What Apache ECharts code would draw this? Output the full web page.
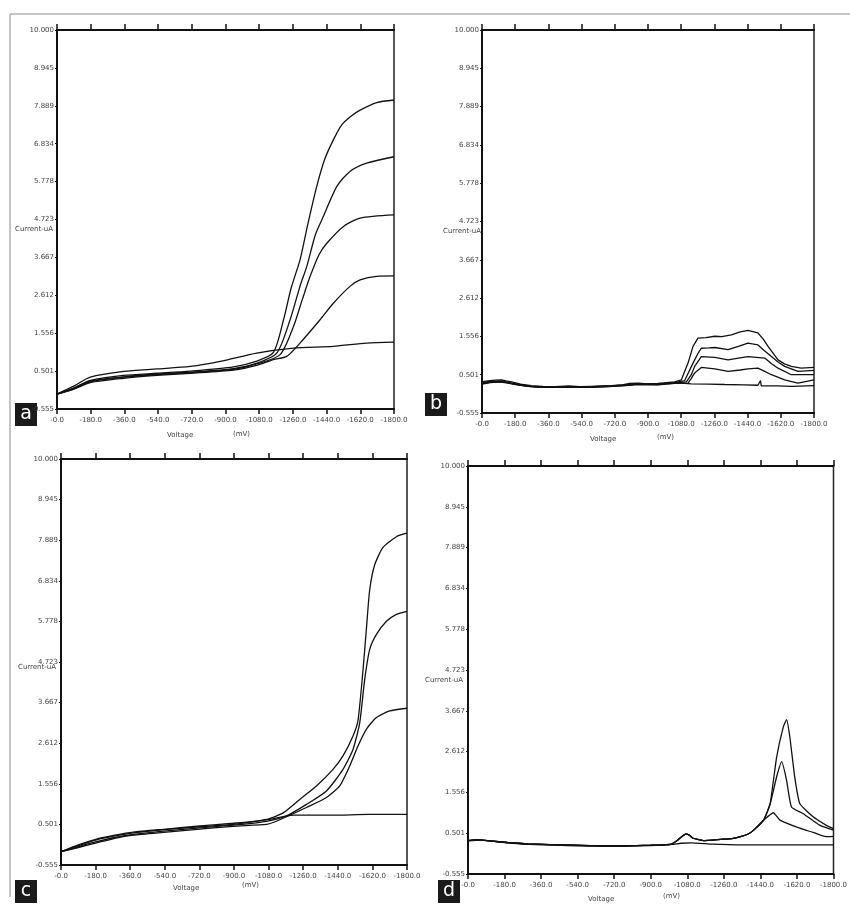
<!DOCTYPE html>
<html>
<head>
<meta charset="utf-8">
<script src="https://cdn.jsdelivr.net/npm/echarts@6/dist/echarts.min.js"></script>
<style>html,body{margin:0;padding:0;background:#fff}#c{width:850px;height:909px}</style>
</head>
<body>
<div id="c"></div>
<script>
// ---- tick labels ----
const xTickLabels = ["-0.0","-180.0","-360.0","-540.0","-720.0","-900.0","-1080.0","-1260.0","-1440.0","-1620.0","-1800.0"];
const yTickLabels = ["-0.555","0.501","1.556","2.612","3.667","4.723","5.778","6.834","7.889","8.945","10.000"];
const panelLetters = ["a","b","c","d"];
const xName = "Voltage", xUnit = "(mV)", yName = "Current-uA";

// ---- panel a : [mV, uA] ----
const a1 = [[0,-0.14],[-89,0.03],[-178,0.24],[-356,0.38],[-534,0.44],[-711,0.50],[-943,0.62],[-1067,0.78],[-1156,1.02],[-1210,1.93],[-1250,2.8],[-1298,3.6],[-1340,4.6],[-1387,5.64],[-1430,6.4],[-1476,6.94],[-1521,7.36],[-1570,7.6],[-1619,7.77],[-1708,7.98],[-1800,8.05]];
const a2 = [[0,-0.14],[-89,0.02],[-178,0.22],[-356,0.34],[-534,0.42],[-711,0.47],[-943,0.57],[-1067,0.72],[-1174,1.0],[-1245,1.93],[-1300,2.9],[-1334,3.41],[-1380,4.3],[-1423,4.81],[-1494,5.64],[-1565,6.06],[-1654,6.29],[-1800,6.47]];
const a3 = [[0,-0.14],[-89,0.0],[-178,0.2],[-356,0.33],[-534,0.40],[-711,0.46],[-943,0.55],[-1067,0.70],[-1192,0.96],[-1263,1.74],[-1310,2.49],[-1352,3.14],[-1400,3.75],[-1441,4.06],[-1530,4.53],[-1619,4.76],[-1800,4.85]];
const a4 = [[0,-0.14],[-89,0.0],[-178,0.18],[-356,0.3],[-534,0.38],[-711,0.44],[-943,0.53],[-1067,0.66],[-1156,0.82],[-1227,0.91],[-1298,1.28],[-1405,1.93],[-1476,2.39],[-1565,2.86],[-1619,3.04],[-1708,3.14],[-1800,3.15]];
const a5 = [[0,-0.14],[-89,0.08],[-178,0.33],[-356,0.49],[-534,0.56],[-711,0.63],[-872,0.77],[-1067,1.0],[-1263,1.14],[-1476,1.19],[-1654,1.28],[-1800,1.31]];

// ---- panel b ----
const b1 = [[0,0.30],[-30,0.33],[-70,0.35],[-105,0.36],[-130,0.33],[-160,0.30],[-210,0.24],[-267,0.20],[-330,0.18],[-400,0.17],[-470,0.19],[-530,0.17],[-593,0.18],[-650,0.19],[-700,0.20],[-760,0.22],[-800,0.26],[-846,0.27],[-900,0.25],[-954,0.26],[-1000,0.28],[-1045,0.30],[-1081,0.36],[-1117,0.82],[-1144,1.28],[-1171,1.51],[-1215,1.52],[-1262,1.56],[-1300,1.55],[-1352,1.60],[-1400,1.68],[-1442,1.72],[-1496,1.65],[-1525,1.48],[-1551,1.28],[-1580,1.08],[-1605,0.91],[-1640,0.80],[-1677,0.73],[-1731,0.68],[-1800,0.70]];
const b2 = [[0,0.27],[-35,0.31],[-80,0.32],[-105,0.33],[-160,0.27],[-220,0.21],[-267,0.18],[-350,0.16],[-400,0.16],[-480,0.17],[-593,0.17],[-660,0.18],[-700,0.19],[-770,0.21],[-846,0.25],[-900,0.24],[-954,0.24],[-1045,0.28],[-1099,0.34],[-1144,0.82],[-1170,1.08],[-1189,1.23],[-1230,1.24],[-1262,1.25],[-1334,1.19],[-1390,1.28],[-1442,1.37],[-1496,1.32],[-1530,1.17],[-1569,1.0],[-1605,0.85],[-1641,0.73],[-1713,0.59],[-1800,0.62]];
const b3 = [[0,0.25],[-40,0.29],[-90,0.31],[-120,0.30],[-170,0.25],[-230,0.19],[-300,0.16],[-400,0.15],[-500,0.16],[-593,0.16],[-700,0.18],[-780,0.20],[-846,0.24],[-954,0.23],[-1045,0.27],[-1108,0.30],[-1135,0.50],[-1153,0.73],[-1189,1.0],[-1262,0.98],[-1334,0.91],[-1390,0.96],[-1442,1.0],[-1533,0.96],[-1570,0.80],[-1605,0.68],[-1677,0.50],[-1800,0.50]];
const b4 = [[0,0.24],[-45,0.28],[-95,0.30],[-140,0.27],[-190,0.22],[-260,0.17],[-350,0.15],[-450,0.15],[-593,0.15],[-690,0.17],[-760,0.20],[-846,0.23],[-954,0.22],[-1045,0.26],[-1117,0.27],[-1135,0.40],[-1153,0.55],[-1189,0.70],[-1262,0.66],[-1334,0.59],[-1400,0.63],[-1442,0.66],[-1496,0.68],[-1530,0.60],[-1569,0.50],[-1641,0.36],[-1713,0.27],[-1800,0.36]];
const b5 = [[0,0.26],[-50,0.30],[-105,0.31],[-160,0.26],[-267,0.18],[-400,0.16],[-593,0.17],[-700,0.19],[-846,0.25],[-954,0.24],[-1045,0.28],[-1135,0.25],[-1230,0.24],[-1316,0.23],[-1420,0.22],[-1496,0.21],[-1505,0.21],[-1510,0.34],[-1514,0.19],[-1600,0.19],[-1677,0.18],[-1800,0.20]];

// ---- panel c ----
const c1 = [[0,-0.21],[-90,-0.05],[-185,0.10],[-280,0.20],[-376,0.28],[-549,0.37],[-722,0.44],[-896,0.50],[-1069,0.63],[-1156,0.80],[-1242,1.15],[-1329,1.50],[-1415,1.93],[-1467,2.28],[-1519,2.80],[-1545,3.20],[-1571,4.50],[-1589,5.60],[-1606,6.60],[-1632,7.25],[-1675,7.70],[-1745,7.98],[-1800,8.07]];
const c2 = [[0,-0.21],[-90,-0.08],[-185,0.05],[-280,0.16],[-376,0.24],[-549,0.33],[-722,0.41],[-896,0.48],[-1069,0.58],[-1173,0.72],[-1277,1.02],[-1381,1.37],[-1467,1.93],[-1519,2.45],[-1554,3.14],[-1580,4.27],[-1606,5.05],[-1641,5.44],[-1693,5.78],[-1745,5.96],[-1800,6.04]];
const c3 = [[0,-0.21],[-90,-0.10],[-185,0.02],[-280,0.14],[-376,0.22],[-549,0.30],[-722,0.38],[-896,0.45],[-1069,0.50],[-1104,0.55],[-1173,0.70],[-1277,0.94],[-1381,1.20],[-1450,1.50],[-1502,2.02],[-1545,2.54],[-1589,2.98],[-1641,3.28],[-1710,3.45],[-1800,3.52]];
const c4 = [[0,-0.21],[-90,-0.03],[-185,0.12],[-280,0.22],[-376,0.30],[-549,0.38],[-722,0.46],[-896,0.53],[-1069,0.62],[-1208,0.74],[-1415,0.74],[-1600,0.76],[-1800,0.76]];

// ---- panel d ----
const dBase = [[0,0.31],[-30,0.33],[-60,0.33],[-110,0.30],[-194,0.26],[-250,0.24],[-300,0.22],[-370,0.21],[-437,0.20],[-520,0.19],[-600,0.18],[-680,0.17],[-760,0.17],[-830,0.18],[-900,0.19],[-960,0.20],[-1003,0.22],[-1035,0.33],[-1060,0.44],[-1076,0.48],[-1092,0.44],[-1108,0.37],[-1164,0.31],[-1245,0.34],[-1300,0.36],[-1342,0.41],[-1380,0.48],[-1407,0.58],[-1456,0.84]];
const d1 = dBase.concat([[-1488,1.27],[-1520,2.47],[-1553,3.25],[-1569,3.44],[-1585,2.99],[-1609,1.96],[-1634,1.27],[-1698,0.93],[-1763,0.71],[-1800,0.62]]);
const d2 = dBase.concat([[-1488,1.25],[-1520,1.96],[-1545,2.35],[-1569,1.87],[-1593,1.18],[-1650,1.01],[-1731,0.71],[-1800,0.58]]);
const d3 = dBase.concat([[-1504,1.03],[-1536,0.84],[-1634,0.63],[-1700,0.52],[-1763,0.41],[-1800,0.42]]);
const d4 = [[0,0.30],[-60,0.32],[-194,0.25],[-300,0.21],[-437,0.19],[-600,0.17],[-760,0.17],[-900,0.18],[-1003,0.21],[-1050,0.24],[-1100,0.25],[-1200,0.22],[-1342,0.20],[-1450,0.20],[-1569,0.20],[-1700,0.20],[-1800,0.20]];

const panelSeries = [[a1,a2,a3,a4,a5],[b1,b2,b3,b4,b5],[c1,c2,c3,c4],[d1,d2,d3,d4]];
const panelSmooth = [0.25, false, 0.2, 0.15];

// ---- layout ----
const grids = [
  {left:57, top:30, width:337, height:379},
  {left:482, top:30, width:332, height:383},
  {left:61, top:459, width:346, height:406},
  {left:468, top:466, width:371, height:408}
];
const letterBoxes = [[15,403],[425,393],[15,880],[438,880]];
const yNamePos = [[15,226],[443,228],[18,664],[425,677]];
const xNamePos = [[[167,432],[233,431]],[[590,436],[657,434]],[[173,885],[242,882]],[[588,896],[663,893]]];

const labelFont = {fontSize:7, color:'#444', fontFamily:'DejaVu Sans'};
const option = {
  animation:false,
  backgroundColor:'#fff',
  grid: grids.map(g => Object.assign({show:true, borderColor:'#222', borderWidth:1.5, backgroundColor:'transparent'}, g)),
  xAxis: [], yAxis: [], series: [], graphic: []
};
grids.forEach((g,i) => {
  option.xAxis.push({
    gridIndex:i, type:'value', min:-1800, max:0, interval:180, inverse:true, position:'bottom',
    axisLine:{onZero:false, lineStyle:{color:'#111', width:2}},
    axisTick:{inside:false, length:5, lineStyle:{color:'#111', width:1.5}},
    axisLabel:Object.assign({margin:8, showMinLabel:true, showMaxLabel:true, formatter:v => xTickLabels[Math.round(-v/180)]}, labelFont),
    splitLine:{show:false}
  });
  option.xAxis.push({
    gridIndex:i, type:'value', min:-1800, max:0, interval:180, inverse:true, position:'top',
    axisLine:{onZero:false, lineStyle:{color:'#111', width:2}},
    axisTick:{inside:false, length:6, lineStyle:{color:'#111', width:1.5}},
    axisLabel:{show:false}, splitLine:{show:false}
  });
  option.yAxis.push({gridIndex:i, type:'value', min:-0.555, max:10, show:false, axisLine:{onZero:false}, splitLine:{show:false}});
  option.yAxis.push({
    gridIndex:i, type:'value', min:0, max:10, interval:1, position:'left',
    axisLine:{show:true, onZero:false, lineStyle:{color:'#111', width:2}},
    axisTick:{show:true, inside:false, length:2, lineStyle:{color:'#111', width:1}},
    axisLabel:Object.assign({margin:3, formatter:v => yTickLabels[Math.round(v)]}, labelFont),
    splitLine:{show:false}
  });
  panelSeries[i].forEach(d => {
    option.series.push({
      type:'line', xAxisIndex:2*i, yAxisIndex:2*i, data:d, showSymbol:false,
      smooth:panelSmooth[i], lineStyle:{color:'#111', width:1.3}
    });
  });
  const lb = letterBoxes[i];
  option.graphic.push({type:'rect', shape:{x:lb[0], y:lb[1], width:22, height:23}, style:{fill:'#1a1a1a'}});
  option.graphic.push({type:'text', x:lb[0]+11, y:lb[1]+11, style:{text:panelLetters[i], fill:'#fff', font:'19px "DejaVu Sans"', textAlign:'center', textVerticalAlign:'middle'}});
  option.graphic.push({type:'text', x:yNamePos[i][0], y:yNamePos[i][1], style:{text:yName, fill:'#444', font:'7px "DejaVu Sans"'}});
  option.graphic.push({type:'text', x:xNamePos[i][0][0], y:xNamePos[i][0][1], style:{text:xName, fill:'#444', font:'7px "DejaVu Sans"'}});
  option.graphic.push({type:'text', x:xNamePos[i][1][0], y:xNamePos[i][1][1], style:{text:xUnit, fill:'#444', font:'7px "DejaVu Sans"'}});
});
option.graphic.push({type:'line', shape:{x1:10, y1:14, x2:850, y2:14}, style:{stroke:'#888', lineWidth:1}});
option.graphic.push({type:'line', shape:{x1:10, y1:14, x2:10, y2:897}, style:{stroke:'#888', lineWidth:1}});

const chart = echarts.init(document.getElementById('c'), null, {renderer:'canvas'});
chart.setOption(option);
</script>
</body>
</html>
